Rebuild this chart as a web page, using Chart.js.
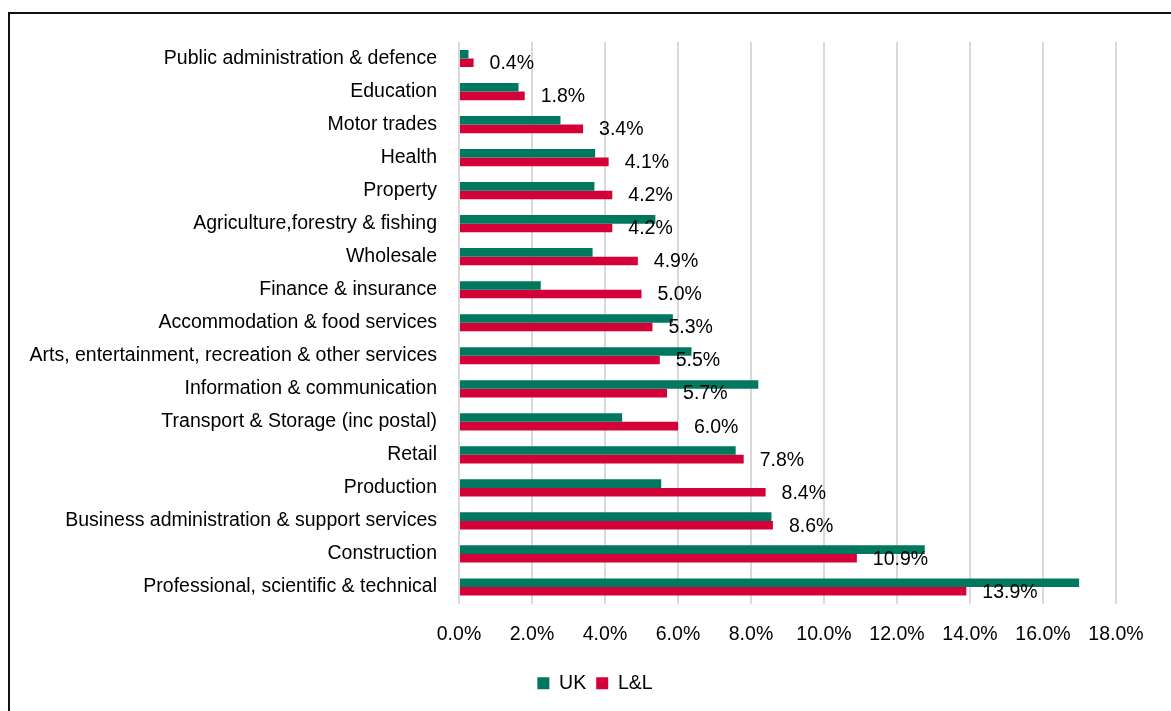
<!DOCTYPE html>
<html>
<head>
<meta charset="utf-8">
<script src="https://cdn.jsdelivr.net/npm/chart.js@4"></script>
<style>
  html, body { margin: 0; padding: 0; background: #fff; }
  body { width: 1171px; height: 711px; overflow: hidden; position: relative; }
  #frame { position: absolute; left: 8px; top: 12px; width: 1300px; height: 800px;
           border-left: 2px solid #111; border-top: 2px solid #111; }
  #sectorChart { position: absolute; left: 0; top: 0; }
</style>
</head>
<body>
<div id="frame"></div>
<canvas id="sectorChart" width="1171" height="711"></canvas>
<script>
const sectors = [
  'Public administration & defence',
  'Education',
  'Motor trades',
  'Health',
  'Property',
  'Agriculture,forestry & fishing',
  'Wholesale',
  'Finance & insurance',
  'Accommodation & food services',
  'Arts, entertainment, recreation & other services',
  'Information & communication',
  'Transport & Storage (inc postal)',
  'Retail',
  'Production',
  'Business administration & support services',
  'Construction',
  'Professional, scientific & technical'
];
const ukShare = [0.26, 1.63, 2.78, 3.73, 3.71, 5.38, 3.66, 2.24, 5.86, 6.37, 8.2, 4.47, 7.58, 5.54, 8.56, 12.76, 16.99];
const llShare = [0.4, 1.8, 3.4, 4.1, 4.2, 4.2, 4.9, 5.0, 5.3, 5.5, 5.7, 6.0, 7.8, 8.4, 8.6, 10.9, 13.9];

const FONT = { family: "'Liberation Sans', Arial, sans-serif", size: 19.5 };

// value labels to the right of the L&L bars
const barLabels = {
  id: 'barLabels',
  afterLayout(chart) {
    // legend sits a little right of the canvas centre, under the plot
    chart.legend.left = 74;
  },
  afterDatasetsDraw(chart) {
    const ctx = chart.ctx;
    const meta = chart.getDatasetMeta(1);
    ctx.save();
    ctx.font = FONT.size + 'px ' + FONT.family;
    ctx.fillStyle = '#000';
    ctx.textAlign = 'left';
    ctx.textBaseline = 'middle';
    meta.data.forEach((bar, i) => {
      ctx.fillText(llShare[i].toFixed(1) + '%', bar.x + 16, bar.y + 1);
    });
    ctx.restore();
  }
};

new Chart(document.getElementById('sectorChart').getContext('2d'), {
  type: 'bar',
  data: {
    labels: sectors,
    datasets: [
      { label: 'UK', data: ukShare, backgroundColor: '#00785F' },
      { label: 'L&L', data: llShare, backgroundColor: '#D40038' }
    ]
  },
  options: {
    indexAxis: 'y',
    responsive: false,
    animation: false,
    maintainAspectRatio: false,
    categoryPercentage: 0.52,
    barPercentage: 1,
    layout: { padding: { top: 42, right: 55, left: 12, bottom: 8 } },
    scales: {
      x: {
        min: 0, max: 18,
        ticks: { stepSize: 2, color: '#000', font: FONT, padding: 19,
                 callback: v => v.toFixed(1) + '%' },
        grid: { color: '#D9D9D9', lineWidth: 2, drawTicks: false },
        border: { display: false },
        afterFit: s => { s.height = 60; }
      },
      y: {
        ticks: { color: '#000', font: FONT, padding: 22, autoSkip: false },
        grid: { display: false, drawTicks: false },
        border: { display: false },
        afterFit: s => { s.width = 459 - 12; }
      }
    },
    plugins: {
      legend: {
        position: 'bottom',
        labels: { boxWidth: 12, boxHeight: 12, color: '#000', font: FONT, padding: 10 }
      },
      tooltip: { enabled: false }
    }
  },
  plugins: [barLabels]
});
</script>
</body>
</html>
